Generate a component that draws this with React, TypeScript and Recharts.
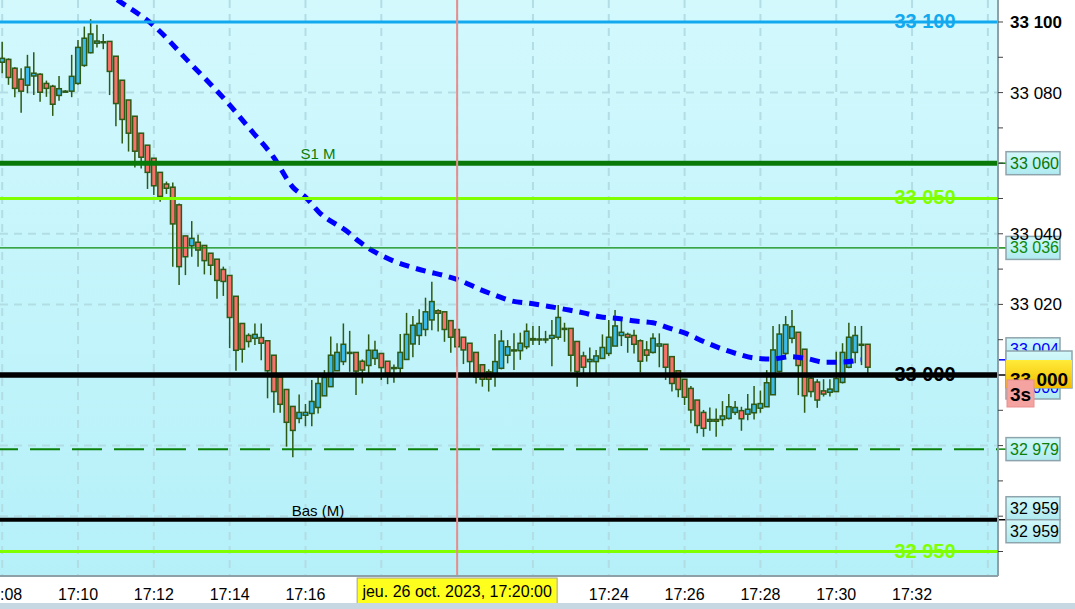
import React from "react";
import {
  ComposedChart,
  Bar,
  Line,
  XAxis,
  YAxis,
  CartesianGrid,
  ReferenceLine,
} from "recharts";

const FONT = "'Liberation Sans', Arial, sans-serif";

// 10 second bars, the first one at 17:08:00
const firstBar = "17:08:00";
const barSeconds = 10;

const opens = [
  33088.6, 33089.4, 33086.9, 33083.8, 33082.1, 33084.7, 33085.2, 33082.6, 33081.8, 33079.2,
  33080.4, 33080.4, 33082.6, 33087.7, 33091.3, 33094.0, 33094.4, 33094.5, 33090.3, 33083.5,
  33077.9, 33073.3, 33068.5, 33065.1, 33061.4, 33057.4, 33054.1, 33053.2, 33048.2, 33039.4,
  33036.6, 33037.6, 33036.7, 33034.5, 33032.8, 33029.9, 33028.2, 33022.3, 33014.6, 33011.2,
  33010.4, 33010.6, 33009.7, 33005.6, 32999.5, 32995.9, 32991.1, 32987.7, 32988.6, 32989.1,
  32990.8, 32994.1, 32996.7, 33001.2, 33003.8, 33006.4, 33006.4, 33003.9, 33002.7, 33004.7,
  33006.1, 33003.9, 33002.1, 33001.9, 33004.4, 33008.8, 33011.2, 33012.9, 33015.6, 33018.2,
  33017.9, 33015.4, 33012.9, 33010.7, 33009.0, 33006.4, 33002.9, 33000.9, 32999.7, 33001.9,
  33005.6, 33007.1, 33006.9, 33008.0, 33010.3, 33010.2, 33010.2, 33010.4, 33010.7, 33013.2,
  33013.2, 33009.5, 33005.4, 33003.8, 33003.8, 33004.7, 33006.1, 33008.2, 33011.2, 33011.5,
  33011.2, 33009.7, 33007.1, 33006.4, 33008.2, 33008.7, 33005.2, 33001.2, 32998.8, 32996.2,
  32992.9, 32989.4, 32986.9, 32987.4, 32987.4, 32987.7, 32989.4, 32989.9, 32988.9, 32989.3,
  32990.6, 32991.0, 32994.4, 33001.0, 33006.1, 33010.4, 33012.1, 33007.3, 32999.1, 32998.0,
  32995.5, 32995.1, 32995.3, 32997.9, 33002.2, 33006.4, 33008.7, 33008.7,
];
const highs = [
  33094.4, 33089.7, 33087.2, 33086.9, 33090.7, 33091.4, 33085.5, 33083.4, 33082.2, 33084.7,
  33080.7, 33090.7, 33094.9, 33098.7, 33100.8, 33099.2, 33096.6, 33094.5, 33090.3, 33083.5,
  33077.9, 33073.3, 33068.5, 33065.1, 33061.4, 33057.4, 33054.8, 33054.5, 33048.6, 33039.4,
  33043.6, 33039.7, 33036.7, 33034.5, 33032.8, 33030.7, 33028.2, 33022.3, 33014.6, 33011.8,
  33014.6, 33014.6, 33009.7, 33005.6, 32999.5, 32995.9, 32991.1, 32994.5, 32991.8, 32998.6,
  33000.0, 33001.4, 33010.9, 33009.0, 33014.6, 33012.5, 33006.4, 33004.4, 33011.5, 33009.7,
  33006.1, 33003.9, 33003.0, 33011.6, 33017.6, 33016.7, 33018.6, 33021.9, 33026.4, 33018.6,
  33017.9, 33015.4, 33012.9, 33010.7, 33009.0, 33006.4, 33002.9, 33001.6, 33011.6, 33012.7,
  33009.9, 33011.8, 33012.0, 33014.6, 33013.9, 33013.9, 33012.5, 33015.6, 33019.8, 33014.8,
  33013.2, 33009.5, 33006.6, 33007.8, 33007.1, 33011.5, 33015.6, 33018.4, 33015.6, 33012.0,
  33012.8, 33010.1, 33009.6, 33011.8, 33011.8, 33008.7, 33005.2, 33001.4, 32998.8, 32996.9,
  32992.9, 32990.1, 32990.8, 32990.5, 32992.6, 32994.6, 32992.6, 32991.0, 32994.6, 32996.9,
  32995.6, 33001.4, 33013.9, 33014.4, 33016.7, 33018.4, 33012.1, 33007.3, 33000.0, 32998.8,
  32998.8, 32998.8, 33006.6, 33009.0, 33014.8, 33013.9, 33013.9, 33008.7,
];
const lows = [
  33085.5, 33082.2, 33078.7, 33074.3, 33079.8, 33079.3, 33077.4, 33078.8, 33073.4, 33077.7,
  33080.0, 33078.7, 33082.2, 33087.3, 33091.1, 33092.8, 33092.3, 33079.3, 33070.5, 33065.6,
  33063.3, 33058.8, 33058.5, 33052.7, 33051.0, 33049.1, 33051.3, 33030.7, 33025.5, 33028.3,
  33033.5, 33030.7, 33028.5, 33028.3, 33021.6, 33022.4, 33007.6, 33001.2, 33003.5, 33007.8,
  33008.5, 33004.2, 32993.4, 32989.3, 32989.3, 32979.7, 32976.7, 32986.3, 32985.5, 32985.5,
  32989.1, 32994.1, 32996.7, 33001.2, 33002.8, 33000.9, 32994.3, 32997.6, 32999.5, 33002.8,
  32998.6, 32997.4, 32997.8, 33000.5, 33004.4, 33005.0, 33008.5, 33011.0, 33012.7, 33012.3,
  33009.4, 33006.3, 33002.4, 33003.1, 33000.5, 32997.6, 32996.7, 32995.3, 32996.7, 33001.6,
  33003.3, 33001.4, 33004.3, 33007.3, 33008.5, 33008.5, 33009.0, 33002.5, 33010.0, 33009.4,
  33000.9, 32996.7, 32999.7, 33000.5, 33000.5, 33004.7, 33005.4, 33008.2, 33008.2, 33006.3,
  33006.1, 33000.7, 33003.8, 33006.1, 33002.2, 32998.6, 32995.3, 32993.7, 32991.5, 32986.3,
  32983.5, 32982.5, 32984.2, 32982.5, 32985.5, 32987.4, 32988.7, 32984.2, 32987.2, 32987.4,
  32989.3, 32991.0, 32994.4, 33000.7, 33005.7, 33009.0, 32994.3, 32989.3, 32993.7, 32990.7,
  32993.9, 32993.9, 32995.3, 32997.6, 33001.9, 33003.3, 33002.8, 33000.3,
];
const closes = [
  33089.7, 33084.3, 33081.2, 33080.4, 33087.2, 33085.5, 33080.1, 33081.2, 33076.7, 33081.1,
  33080.4, 33084.6, 33092.8, 33095.4, 33096.6, 33094.6, 33094.4, 33086.0, 33076.9, 33072.4,
  33068.5, 33063.4, 33061.7, 33057.4, 33053.6, 33050.6, 33052.9, 33042.8, 33030.7, 33033.5,
  33038.7, 33035.4, 33032.4, 33031.1, 33026.8, 33026.5, 33016.3, 33007.0, 33007.3, 33009.5,
  33011.5, 33009.0, 33001.2, 32995.3, 32991.7, 32986.6, 32984.3, 32989.4, 32989.4, 32992.5,
  32997.6, 32999.3, 33005.6, 33006.4, 33008.7, 33006.4, 33001.1, 33001.4, 33007.0, 33007.0,
  33002.1, 33000.5, 33002.1, 33006.4, 33011.5, 33014.1, 33014.6, 33017.9, 33020.8, 33017.5,
  33012.9, 33010.7, 33008.0, 33007.1, 33003.8, 32999.5, 32998.8, 32998.8, 33003.8, 33009.6,
  33008.0, 33007.1, 33009.0, 33012.4, 33009.9, 33010.2, 33010.2, 33011.2, 33016.3, 33013.2,
  33005.6, 33001.0, 33002.2, 33004.4, 33005.4, 33007.8, 33010.7, 33013.9, 33012.1, 33010.7,
  33008.7, 33003.9, 33005.6, 33010.4, 33008.8, 33002.2, 32997.6, 32995.9, 32993.7, 32990.1,
  32985.7, 32984.9, 32987.4, 32986.9, 32988.4, 32991.0, 32990.8, 32987.6, 32990.3, 32991.7,
  32991.9, 32997.8, 33007.1, 33011.6, 33014.2, 33013.7, 33002.7, 32994.1, 32995.3, 32992.9,
  32994.6, 32996.0, 32999.0, 33006.4, 33010.7, 33011.2, 33008.7, 33002.2,
];

// dotted moving average
const maTimes = [
  "17:10:40", "17:11:03", "17:11:59", "17:12:57", "17:13:56", "17:14:32", "17:15:09",
  "17:15:40", "17:16:01", "17:16:21", "17:17:07", "17:17:25", "17:18:19", "17:18:45",
  "17:19:13", "17:19:41", "17:20:07", "17:20:34", "17:21:00", "17:21:26", "17:21:55",
  "17:22:23", "17:22:51", "17:23:20", "17:23:46", "17:24:15", "17:24:42", "17:25:10",
  "17:25:37", "17:26:03", "17:26:30", "17:26:56", "17:27:23", "17:27:50", "17:28:19",
  "17:28:47", "17:29:15", "17:29:42", "17:30:11", "17:30:39",
];
const maValues = [
  33109.1, 33106.2, 33099.1, 33088.4, 33077.3, 33069.7, 33061.8,
  33053.2, 33050.2, 33046.2, 33040.5, 33037.8, 33032.3, 33030.7,
  33029.3, 33028.1, 33026.6, 33024.4, 33022.6, 33021.0, 33020.3,
  33019.5, 33018.6, 33017.6, 33016.5, 33016.0, 33015.3, 33014.8,
  33013.2, 33011.7, 33009.5, 33007.6, 33006.0, 33004.8, 33004.5,
  33005.2, 33004.6, 33003.6, 33003.7, 33004.3,
];

const timeTicks = [
  "17:08", "17:10", "17:12", "17:14", "17:16", "17:18", "17:20",
  "17:22", "17:24", "17:26", "17:28", "17:30", "17:32", "17:34",
];
const hiddenTimeLabels = ["17:18", "17:22", "17:34"];
const cursorTime = "17:20";
const cursorLabel = "jeu. 26 oct. 2023, 17:20:00";

const priceTicks = [
  32950, 32960, 32970, 32980, 32990, 33000, 33010, 33020, 33030, 33040,
  33050, 33060, 33070, 33080, 33090, 33100,
];
const gridPrices = [32960, 32980, 33000, 33020, 33040, 33060, 33080, 33100];
const hiddenPriceLabels = [32960, 32980, 33000, 33060];

const toSec = (s: string) => {
  const p = s.split(":").map(Number);
  return (p[0] - 17) * 3600 + p[1] * 60 + (p[2] || 0);
};
const fmt = (v: number) =>
  `${Math.floor(v / 1000)} ${String(Math.round(v) % 1000).padStart(3, "0")}`;

const candles = opens.map((o, i) => ({
  t: toSec(firstBar) + i * barSeconds,
  open: o,
  high: highs[i],
  low: lows[i],
  close: closes[i],
}));
const maData = maTimes.map((t, i) => ({ t: toSec(t), ma: maValues[i] }));

const WICK = "#2d5a14";
const BODY_W = 4.6;

function Candle(props: any) {
  const { x, y, width, height, payload } = props;
  const { open, close, high, low } = payload;
  const ratio = height / (high - low || 1);
  const yo = y + (high - open) * ratio;
  const yc = y + (high - close) * ratio;
  const top = Math.min(yo, yc);
  const bodyH = Math.max(Math.abs(yo - yc), 1);
  const cx = x + width / 2;
  return (
    <g>
      <line x1={cx} x2={cx} y1={y} y2={y + height} stroke={WICK} strokeWidth={1.5} />
      <rect
        x={cx - BODY_W / 2}
        y={top}
        width={BODY_W}
        height={bodyH}
        fill={close >= open ? "#3bbbec" : "#f8716a"}
        stroke={WICK}
        strokeWidth={1.5}
      />
    </g>
  );
}

function XTick(props: any) {
  const { x, payload } = props;
  const label = timeTicks.find((t) => toSec(t) === payload.value) || "";
  if (label === cursorTime) {
    return (
      <g>
        <rect x={x - 100} y={578} width={200} height={26} fill="#ffff1e" stroke="#a0a0a0" />
        <text x={x} y={597} textAnchor="middle" fontSize={16} fontFamily={FONT} fill="#000">
          {cursorLabel}
        </text>
      </g>
    );
  }
  if (hiddenTimeLabels.includes(label)) return <g />;
  return (
    <text x={x} y={600} textAnchor="middle" fontSize={16} fontFamily={FONT} fill="#000">
      {label}
    </text>
  );
}

function YTick(props: any) {
  const { x, y, payload } = props;
  const v = payload.value;
  const show = v % 20 === 0 && !hiddenPriceLabels.includes(v);
  return (
    <g>
      <line x1={x - 8} x2={x - 3} y1={y} y2={y} stroke="#444" strokeWidth={1} />
      {show && (
        <text
          x={x + 4}
          y={y + 6}
          fontSize={17}
          fontFamily={FONT}
          fontWeight={v === 33100 ? 700 : 400}
          fill="#000"
        >
          {fmt(v)}
        </text>
      )}
    </g>
  );
}

// big bold tag drawn on the line near the right edge
const lineTag = (text: string, color: string) => (p: any) => {
  const { x, y, width } = p.viewBox;
  return (
    <text
      x={x + width - 73}
      y={y + 6}
      textAnchor="middle"
      fontSize={20}
      fontWeight={700}
      fontFamily={FONT}
      fill={color}
    >
      {text}
    </text>
  );
};

const smallTag = (text: string, color: string) => (p: any) => {
  const { y } = p.viewBox;
  return (
    <text x={318} y={y - 4} textAnchor="middle" fontSize={15} fontFamily={FONT} fill={color}>
      {text}
    </text>
  );
};

const boxAt = (x: number, y: number, text: string, color: string, w = 54) => (
  <g>
    <rect x={x} y={y} width={w} height={23} fill="url(#boxFill)" stroke="#8ea4ac" strokeWidth={1.5} />
    <text x={x + 4} y={y + 17} fontSize={16} fontFamily={FONT} fill={color}>
      {text}
    </text>
  </g>
);

const axisBox = (texts: string[], color: string) => (p: any) => {
  const { x, y, width } = p.viewBox;
  const right = x + width;
  const start = texts.length > 1 ? y - 23 : y - 11.5;
  return (
    <g>
      <line x1={right} x2={right + 8} y1={y} y2={y} stroke={color} strokeWidth={1.5} />
      {texts.map((t, i) => (
        <g key={i}>{boxAt(right + 8, start + i * 23, t, color)}</g>
      ))}
    </g>
  );
};

const maMarker = (p: any) => {
  const { x, y, width } = p.viewBox;
  const right = x + width;
  return (
    <g>
      <line x1={right} x2={right + 8} y1={y} y2={y} stroke="#0000ff" strokeWidth={1.5} />
      {boxAt(right + 8, y - 22, fmt(maValues[maValues.length - 1]), "#0000ff")}
    </g>
  );
};

const lastTag = (p: any) => {
  const { x, y, width } = p.viewBox;
  const right = x + width;
  return (
    <g>
      <text
        x={x + width - 73}
        y={y + 6}
        textAnchor="middle"
        fontSize={20}
        fontWeight={700}
        fontFamily={FONT}
        fill="#000"
      >
        33 000
      </text>
      {boxAt(right + 8, y + 1, "33 000", "#0000ff")}
      <line x1={right} x2={right + 8} y1={y} y2={y} stroke="#000" strokeWidth={1.5} />
      <rect x={right + 8} y={y - 24} width={66} height={37} fill="url(#boxFill)" stroke="#8ea4ac" strokeWidth={1.5} />
      <rect x={right + 8} y={y - 15} width={66} height={28} fill="url(#lastFill)" />
      <text x={right + 12} y={y + 11} fontSize={19} fontWeight={700} fontFamily={FONT} fill="#000">
        33 000
      </text>
      <rect x={right + 9} y={y + 5} width={27} height={27} fill="#f5a3a0" stroke="#e89090" />
      <text x={right + 12} y={y + 26} fontSize={19} fontWeight={700} fontFamily={FONT} fill="#000">
        3s
      </text>
    </g>
  );
};

export default function App() {
  return (
    <div style={{ position: "absolute", left: 0, top: 0, width: 1075, height: 609, background: "#fff" }}>
      <ComposedChart
        width={1075}
        height={609}
        data={candles}
        margin={{ top: 0, right: 0, bottom: 0, left: 0 }}
        style={{ fontFamily: FONT }}
      >
        <defs>
          <linearGradient id="bgFill" x1="0" y1="0" x2="0" y2="1">
            <stop offset="0%" stopColor="#d3f9fd" />
            <stop offset="100%" stopColor="#b5f0f9" />
          </linearGradient>
          <linearGradient id="boxFill" x1="0" y1="0" x2="0" y2="1">
            <stop offset="0%" stopColor="#d2f8fa" />
            <stop offset="100%" stopColor="#aeeaf0" />
          </linearGradient>
          <linearGradient id="lastFill" x1="0" y1="0" x2="0" y2="1">
            <stop offset="0%" stopColor="#ffec3a" />
            <stop offset="100%" stopColor="#f2bc00" />
          </linearGradient>
        </defs>
        <CartesianGrid
          fill="url(#bgFill)"
          stroke="#b3dde5"
          strokeWidth={2}
          strokeDasharray="8 6"
          horizontalValues={gridPrices}
          verticalValues={timeTicks.map(toSec)}
        />
        <XAxis
          dataKey="t"
          type="number"
          domain={[476.5, 2056]}
          ticks={timeTicks.map(toSec)}
          interval={0}
          height={33}
          allowDataOverflow
          axisLine={{ stroke: "#8ea0a8", strokeWidth: 2 }}
          tickLine={false}
          tick={<XTick />}
        />
        <YAxis
          orientation="right"
          type="number"
          domain={[32943.06, 33106.23]}
          ticks={priceTicks}
          interval={0}
          width={77}
          allowDataOverflow
          axisLine={{ stroke: "#8ea0a8", strokeWidth: 2 }}
          tickLine={false}
          tick={<YTick />}
        />
        <Bar
          dataKey={(d: any) => [d.low, d.high]}
          barSize={5}
          shape={<Candle />}
          isAnimationActive={false}
        />
        <Line
          data={maData}
          dataKey="ma"
          type="monotone"
          stroke="#0000ff"
          strokeWidth={5}
          strokeDasharray="10 7"
          dot={false}
          activeDot={false}
          isAnimationActive={false}
        />
        <ReferenceLine y={33100} stroke="#12a9ef" strokeWidth={3} label={lineTag("33 100", "#12a9ef")} />
        <ReferenceLine y={33060} stroke="#087808" strokeWidth={5} label={smallTag("S1 M", "#0a7d0a")} />
        <ReferenceLine y={33060} stroke="none" label={axisBox(["33 060"], "#087808")} />
        <ReferenceLine y={33050} stroke="#80ff00" strokeWidth={3} label={lineTag("33 050", "#80ff00")} />
        <ReferenceLine y={33036} stroke="#0a8a0a" strokeWidth={1.2} label={axisBox(["33 036"], "#0a8a0a")} />
        <ReferenceLine y={32979} stroke="#0a800a" strokeWidth={2} strokeDasharray="30 12" strokeDashoffset={28} label={axisBox(["32 979"], "#0a800a")} />
        <ReferenceLine y={32959} stroke="#000" strokeWidth={4} label={smallTag("Bas (M)", "#000")} />
        <ReferenceLine y={32959} stroke="none" label={axisBox(["32 959", "32 959"], "#000")} />
        <ReferenceLine y={32950} stroke="#80ff00" strokeWidth={3} label={lineTag("32 950", "#80ff00")} />
        <ReferenceLine y={maValues[maValues.length - 1]} stroke="none" label={maMarker} />
        <ReferenceLine y={33000} stroke="#000" strokeWidth={5.5} label={lastTag} />
        <ReferenceLine x={toSec("17:20:00")} stroke="#e98c8c" strokeWidth={2} />
      </ComposedChart>
      <div style={{ position: "absolute", left: 0, top: 603, width: 1075, height: 6, background: "#c8d8e2" }} />
    </div>
  );
}
